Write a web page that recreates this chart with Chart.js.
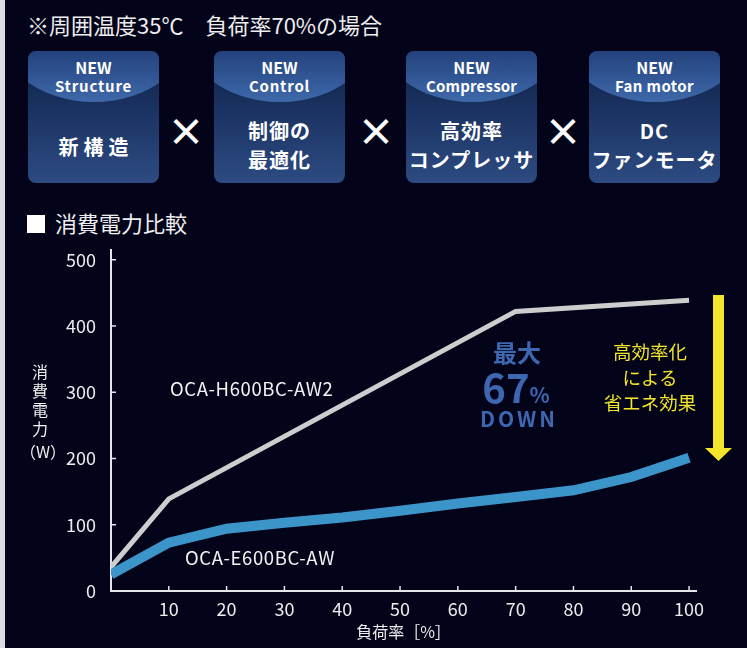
<!DOCTYPE html>
<html>
<head>
<meta charset="utf-8">
<script src="https://cdn.jsdelivr.net/npm/chart.js@4"></script>
<style>
  html, body { margin: 0; padding: 0; }
  body {
    width: 747px; height: 648px; position: relative; overflow: hidden;
    background: #03041a; color: #eeeeee;
    font-family: "Noto Sans CJK JP", "Noto Sans", sans-serif;
  }
  .edge { position: absolute; left: 0; top: 0; width: 5px; height: 648px; background: #dcdce4; }
  .abs { position: absolute; white-space: nowrap; }
  .note { left: 27px; top: 9px; font-size: 22px; line-height: 30px; }
  .sub { left: 27px; top: 207px; font-size: 22px; line-height: 30px; }
  .sq { display: inline-block; width: 18px; height: 18px; background: #ffffff; margin-right: 10px; vertical-align: -1px; }
  .box {
    position: absolute; top: 51px; width: 131px; height: 132px; border-radius: 8px; overflow: hidden;
    background: linear-gradient(to bottom, #0e2147 0%, #1b3362 45%, #2d4b82 100%);
  }
  .cap {
    position: absolute; width: 200px; height: 158px; left: 50%; margin-left: -100px; top: -107px;
    border-radius: 50%;
    background: linear-gradient(to bottom, #22407a 66%, #3f69ab 100%);
  }
  .box div.t { position: absolute; left: 0; width: 100%; text-align: center; color: #ffffff; font-weight: 700; }
  .h1 { top: 6px; font-size: 16px; line-height: 20px; }
  .h2 { top: 25px; font-size: 15px; line-height: 20px; letter-spacing: 0.8px; }
  .b1 { top: 81px; font-size: 20px; line-height: 30px; letter-spacing: 1px; }
  .b2 { top: 65px; font-size: 20px; line-height: 29px; letter-spacing: 1px; }
  .times { top: 108px; font-size: 38px; line-height: 44px; font-weight: 700; color: #ffffff; transform: translateX(-50%); }
  .ytitle { left: 20px; width: 40px; top: 362px; text-align: center; font-size: 16px; line-height: 19px; color: #eeeeee; }
  .lbl { font-size: 18.5px; letter-spacing: 0.6px; color: #f2f2f2; }
  .blue { color: #3d67b0; font-weight: 700; text-align: center; transform: translateX(-50%); }
  .yellow { color: #f2e42c; font-size: 18.5px; line-height: 25.5px; text-align: center; transform: translateX(-50%); }
  #wrap { position: absolute; left: 0; top: 224px; width: 747px; height: 424px; }
</style>
</head>
<body>
<div class="edge"></div>
<div class="abs note">※周囲温度35℃　負荷率70%の場合</div>

<div class="box" style="left:28px"><div class="cap"></div>
  <div class="t h1">NEW</div><div class="t h2">Structure</div>
  <div class="t b1" style="letter-spacing:5px;text-indent:5px">新構造</div></div>
<div class="abs times" style="left:186px">×</div>
<div class="box" style="left:214px"><div class="cap"></div>
  <div class="t h1">NEW</div><div class="t h2">Control</div>
  <div class="t b2">制御の<br>最適化</div></div>
<div class="abs times" style="left:376px">×</div>
<div class="box" style="left:406px"><div class="cap"></div>
  <div class="t h1">NEW</div><div class="t h2" style="letter-spacing:0.2px">Compressor</div>
  <div class="t b2">高効率<br>コンプレッサ</div></div>
<div class="abs times" style="left:563px">×</div>
<div class="box" style="left:589px"><div class="cap"></div>
  <div class="t h1">NEW</div><div class="t h2" style="letter-spacing:0.4px">Fan motor</div>
  <div class="t b2">DC<br>ファンモータ</div></div>

<div class="abs sub"><span class="sq"></span>消費電力比較</div>

<div id="wrap"><canvas id="chart" width="747" height="424"></canvas></div>

<div class="abs ytitle">消<br>費<br>電<br>力<br><span style="display:block;margin-top:4px">（W）</span></div>

<div class="abs lbl" style="left:170px;top:375px">OCA-H600BC-AW2</div>
<div class="abs lbl" style="left:185px;top:544px">OCA-E600BC-AW</div>

<div class="abs blue" style="left:517px;top:336px;font-size:24px;line-height:32px">最大</div>
<div class="abs blue" style="left:516px;top:361px;font-size:40px;line-height:50px">67<span style="font-size:21px">%</span></div>
<div class="abs blue" style="left:519px;top:404px;font-size:21px;line-height:28px;letter-spacing:3px">DOWN</div>

<div class="abs yellow" style="left:650px;top:339px">高効率化<br>による<br>省エネ効果</div>

<svg class="abs" style="left:0;top:0" width="747" height="648">
  <polygon points="713,295 724,295 724,448 732,448 718.5,461 705,448 713,448" fill="#f4e52a"/>
</svg>

<script>
// 負荷率 [%]
const loadPct = [0, 10, 20, 30, 40, 50, 60, 70, 80, 90, 100];
// OCA-E600BC-AW (W)
const newModel = [25, 73, 94, 103, 111, 121, 132, 142, 152, 172, 201];
// OCA-H600BC-AW2 (W) :折れ点のみ
const oldLoad = [0, 10, 70, 100];
const oldModel = [36, 139, 422, 439];

const yTicks = [0, 100, 200, 300, 400, 500];

Chart.defaults.font.family = '"Noto Sans CJK JP", "Noto Sans", sans-serif';
Chart.defaults.color = '#ececec';

const AXIS = '#e6e6e6';

// 内向きの目盛り
const innerTicks = {
  id: 'innerTicks',
  afterDraw(chart) {
    const { ctx, scales: { x, y } } = chart;
    ctx.save();
    ctx.strokeStyle = AXIS;
    ctx.lineWidth = 1.5;
    x.ticks.forEach(t => {
      if (t.value === 0) return;
      const px = x.getPixelForValue(t.value);
      ctx.beginPath();
      ctx.moveTo(px, x.top);
      ctx.lineTo(px, x.top - 5);
      ctx.stroke();
    });
    y.ticks.forEach(t => {
      if (t.value === 0) return;
      const py = y.getPixelForValue(t.value);
      ctx.beginPath();
      ctx.moveTo(y.right, py);
      ctx.lineTo(y.right + 5, py);
      ctx.stroke();
    });
    ctx.restore();
  }
};

new Chart(document.getElementById('chart'), {
  type: 'line',
  data: {
    datasets: [
      {
        label: 'OCA-E600BC-AW',
        data: loadPct.map((v, i) => ({ x: v, y: newModel[i] })),
        borderColor: '#3b95c9',
        borderWidth: 10,
        pointRadius: 0,
        tension: 0
      },
      {
        label: 'OCA-H600BC-AW2',
        data: oldLoad.map((v, i) => ({ x: v, y: oldModel[i] })),
        borderColor: '#cdcdcd',
        borderWidth: 5,
        pointRadius: 0,
        tension: 0
      }
    ]
  },
  options: {
    responsive: false,
    animation: false,
    layout: { padding: { left: 0, top: 7, right: 51, bottom: 0 } },
    plugins: {
      legend: { display: false },
      tooltip: { enabled: false }
    },
    scales: {
      x: {
        type: 'linear',
        min: 0,
        max: 101.2,
        grid: { display: false, drawTicks: false },
        border: { display: true, color: AXIS, width: 2 },
        ticks: {
          stepSize: 10,
          includeBounds: false,
          padding: 7,
          font: { size: 18 },
          color: '#ececec',
          callback: v => (v === 0 ? '' : v)
        },
        title: {
          display: true,
          text: '負荷率［%］',
          color: '#ececec',
          font: { size: 16 },
          padding: { top: 0, bottom: 6 }
        },
        afterFit: s => { s.height = 57; }
      },
      y: {
        type: 'linear',
        min: 0,
        max: 515,
        grid: { display: false, drawTicks: false },
        border: { display: true, color: AXIS, width: 2 },
        afterBuildTicks: s => { s.ticks = yTicks.map(v => ({ value: v })); },
        ticks: {
          padding: 15,
          font: { size: 18 },
          color: '#ececec'
        },
        afterFit: s => { s.width = 111; }
      }
    }
  },
  plugins: [innerTicks]
});
</script>
</body>
</html>
